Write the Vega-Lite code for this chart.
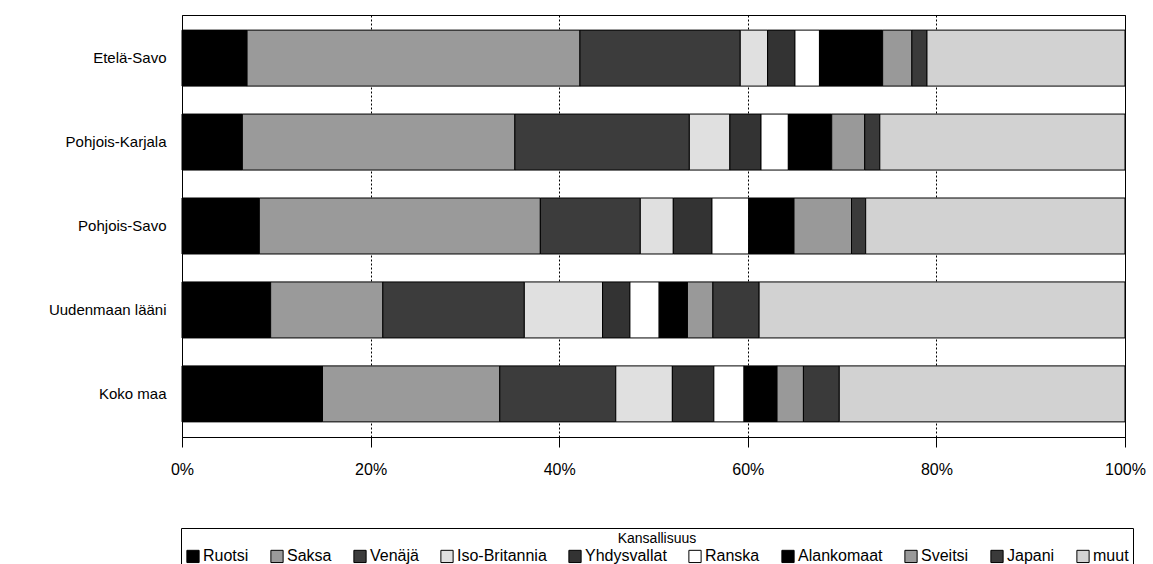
{
  "$schema": "https://vega.github.io/schema/vega-lite/v6.json",
  "autosize": "none",
  "width": 943,
  "height": 422,
  "padding": {"left": 182, "top": 15, "right": 28, "bottom": 127},
  "background": "white",
  "config": {
    "font": "Liberation Sans",
    "view": {"stroke": "black", "strokeWidth": 1}
  },
  "datasets": {
    "jarjestys": [
      {"maa": "Ruotsi", "j": 1},
      {"maa": "Saksa", "j": 2},
      {"maa": "Venäjä", "j": 3},
      {"maa": "Iso-Britannia", "j": 4},
      {"maa": "Yhdysvallat", "j": 5},
      {"maa": "Ranska", "j": 6},
      {"maa": "Alankomaat", "j": 7},
      {"maa": "Sveitsi", "j": 8},
      {"maa": "Japani", "j": 9},
      {"maa": "muut", "j": 10}
    ]
  },
  "data": {"values": [
    {"alue": "Etelä-Savo", "maa": "Ruotsi", "osuus": 6.9},
    {"alue": "Etelä-Savo", "maa": "Saksa", "osuus": 35.3},
    {"alue": "Etelä-Savo", "maa": "Venäjä", "osuus": 17.0},
    {"alue": "Etelä-Savo", "maa": "Iso-Britannia", "osuus": 2.9},
    {"alue": "Etelä-Savo", "maa": "Yhdysvallat", "osuus": 2.9},
    {"alue": "Etelä-Savo", "maa": "Ranska", "osuus": 2.6},
    {"alue": "Etelä-Savo", "maa": "Alankomaat", "osuus": 6.7},
    {"alue": "Etelä-Savo", "maa": "Sveitsi", "osuus": 3.1},
    {"alue": "Etelä-Savo", "maa": "Japani", "osuus": 1.6},
    {"alue": "Etelä-Savo", "maa": "muut", "osuus": 21.0},
    {"alue": "Pohjois-Karjala", "maa": "Ruotsi", "osuus": 6.4},
    {"alue": "Pohjois-Karjala", "maa": "Saksa", "osuus": 28.9},
    {"alue": "Pohjois-Karjala", "maa": "Venäjä", "osuus": 18.5},
    {"alue": "Pohjois-Karjala", "maa": "Iso-Britannia", "osuus": 4.3},
    {"alue": "Pohjois-Karjala", "maa": "Yhdysvallat", "osuus": 3.3},
    {"alue": "Pohjois-Karjala", "maa": "Ranska", "osuus": 2.9},
    {"alue": "Pohjois-Karjala", "maa": "Alankomaat", "osuus": 4.6},
    {"alue": "Pohjois-Karjala", "maa": "Sveitsi", "osuus": 3.5},
    {"alue": "Pohjois-Karjala", "maa": "Japani", "osuus": 1.6},
    {"alue": "Pohjois-Karjala", "maa": "muut", "osuus": 26.0},
    {"alue": "Pohjois-Savo", "maa": "Ruotsi", "osuus": 8.2},
    {"alue": "Pohjois-Savo", "maa": "Saksa", "osuus": 29.8},
    {"alue": "Pohjois-Savo", "maa": "Venäjä", "osuus": 10.6},
    {"alue": "Pohjois-Savo", "maa": "Iso-Britannia", "osuus": 3.5},
    {"alue": "Pohjois-Savo", "maa": "Yhdysvallat", "osuus": 4.1},
    {"alue": "Pohjois-Savo", "maa": "Ranska", "osuus": 3.9},
    {"alue": "Pohjois-Savo", "maa": "Alankomaat", "osuus": 4.8},
    {"alue": "Pohjois-Savo", "maa": "Sveitsi", "osuus": 6.1},
    {"alue": "Pohjois-Savo", "maa": "Japani", "osuus": 1.5},
    {"alue": "Pohjois-Savo", "maa": "muut", "osuus": 27.5},
    {"alue": "Uudenmaan lääni", "maa": "Ruotsi", "osuus": 9.4},
    {"alue": "Uudenmaan lääni", "maa": "Saksa", "osuus": 11.9},
    {"alue": "Uudenmaan lääni", "maa": "Venäjä", "osuus": 15.0},
    {"alue": "Uudenmaan lääni", "maa": "Iso-Britannia", "osuus": 8.3},
    {"alue": "Uudenmaan lääni", "maa": "Yhdysvallat", "osuus": 2.9},
    {"alue": "Uudenmaan lääni", "maa": "Ranska", "osuus": 3.1},
    {"alue": "Uudenmaan lääni", "maa": "Alankomaat", "osuus": 3.0},
    {"alue": "Uudenmaan lääni", "maa": "Sveitsi", "osuus": 2.7},
    {"alue": "Uudenmaan lääni", "maa": "Japani", "osuus": 4.9},
    {"alue": "Uudenmaan lääni", "maa": "muut", "osuus": 38.8},
    {"alue": "Koko maa", "maa": "Ruotsi", "osuus": 14.9},
    {"alue": "Koko maa", "maa": "Saksa", "osuus": 18.8},
    {"alue": "Koko maa", "maa": "Venäjä", "osuus": 12.3},
    {"alue": "Koko maa", "maa": "Iso-Britannia", "osuus": 6.0},
    {"alue": "Koko maa", "maa": "Yhdysvallat", "osuus": 4.4},
    {"alue": "Koko maa", "maa": "Ranska", "osuus": 3.2},
    {"alue": "Koko maa", "maa": "Alankomaat", "osuus": 3.5},
    {"alue": "Koko maa", "maa": "Sveitsi", "osuus": 2.8},
    {"alue": "Koko maa", "maa": "Japani", "osuus": 3.8},
    {"alue": "Koko maa", "maa": "muut", "osuus": 30.3}
  ]},
  "transform": [
    {"lookup": "maa", "from": {"data": {"name": "jarjestys"}, "key": "maa", "fields": ["j"]}}
  ],
  "mark": {"type": "bar", "stroke": "black", "strokeWidth": 1},
  "encoding": {
    "y": {
      "field": "alue", "type": "nominal",
      "sort": ["Etelä-Savo", "Pohjois-Karjala", "Pohjois-Savo", "Uudenmaan lääni", "Koko maa"],
      "scale": {"paddingInner": 0.333, "paddingOuter": 0.18},
      "axis": {"title": null, "domain": false, "ticks": false, "labelFontSize": 15, "labelColor": "black", "labelPadding": 16}
    },
    "x": {
      "field": "osuus", "type": "quantitative", "stack": "normalize",
      "scale": {"domain": [0, 1]},
      "axis": {
        "title": null, "format": ".0%", "values": [0, 0.2, 0.4, 0.6, 0.8, 1],
        "labelFontSize": 16, "labelColor": "black", "labelPadding": 14, "labelFlush": false,
        "domainColor": "black", "tickColor": "black", "tickSize": 10,
        "grid": true, "gridColor": "black", "gridDash": [2, 2], "gridOpacity": 1
      }
    },
    "color": {
      "field": "maa", "type": "nominal",
      "sort": ["Ruotsi", "Saksa", "Venäjä", "Iso-Britannia", "Yhdysvallat", "Ranska", "Alankomaat", "Sveitsi", "Japani", "muut"],
      "scale": {
        "domain": ["Ruotsi", "Saksa", "Venäjä", "Iso-Britannia", "Yhdysvallat", "Ranska", "Alankomaat", "Sveitsi", "Japani", "muut"],
        "range": ["#000000", "#9a9a9a", "#3c3c3c", "#e0e0e0", "#333333", "#ffffff", "#000000", "#999999", "#3a3a3a", "#d2d2d2"]
      },
      "legend": {
        "title": "Kansallisuus",
        "orient": "none", "legendX": -1, "legendY": 513,
        "direction": "horizontal", "columns": 10,
        "strokeColor": "black", "padding": 4,
        "titleFontSize": 14, "titleFontWeight": "normal", "titleColor": "black", "titleAnchor": "middle", "titlePadding": 2,
        "labelFontSize": 16, "labelColor": "black", "labelOffset": 2,
        "symbolType": "square", "symbolSize": 150, "symbolStrokeColor": "black", "symbolStrokeWidth": 1,
        "columnPadding": 19
      }
    },
    "order": {"field": "j", "type": "quantitative", "sort": "ascending"}
  }
}
